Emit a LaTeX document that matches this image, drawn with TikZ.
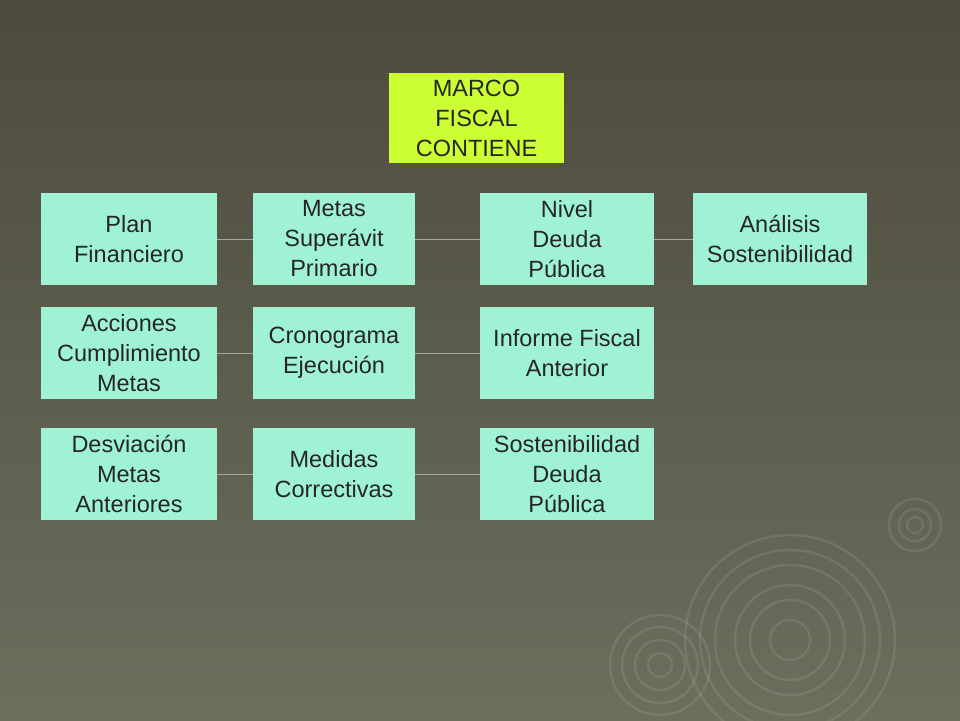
\documentclass[tikz,border=0pt]{standalone}
\usepackage{fontspec}
\setmainfont{Liberation Sans}
\begin{document}
\begin{tikzpicture}[x=1pt,y=-1pt,
 box/.style={fill=boxc,minimum height=92pt,align=center,font=\fontsize{23.5}{30}\selectfont,text=black!85,inner sep=0pt},
 link/.style={draw=gray!70,line width=0.6pt},
 ring/.style={draw=white,opacity=0.09,line width=2.5pt}]
\definecolor{boxc}{HTML}{A0F2D4}
\definecolor{topc}{HTML}{CCFF33}
\definecolor{bgtop}{HTML}{4D4A3E}
\definecolor{bgbot}{HTML}{6B6F5C}
\shade[top color=bgtop,bottom color=bgbot] (0,0) rectangle (960,720);
\useasboundingbox (0,0) rectangle (960,720);
\foreach \r in {20,40,55,75,90,105} \draw[ring] (790,640) circle (\r);
\foreach \r in {12,25,38,50} \draw[ring] (660,665) circle (\r);
\foreach \r in {8,16,26} \draw[ring] (915,525) circle (\r);
\node[box,fill=topc,minimum width=175pt,minimum height=90pt] (m) at (476.5,118) {MARCO\\FISCAL\\CONTIENE};
\node[box,minimum width=176pt] (a1) at (129,239) {Plan\\Financiero};
\node[box,minimum width=162pt] (a2) at (334,239) {Metas\\Superávit\\Primario};
\node[box,minimum width=174pt] (a3) at (567,239) {Nivel\\Deuda\\Pública};
\node[box,minimum width=174pt] (a4) at (780,239) {Análisis\\Sostenibilidad};
\node[box,minimum width=176pt] (b1) at (129,353) {Acciones\\Cumplimiento\\Metas};
\node[box,minimum width=162pt] (b2) at (334,353) {Cronograma\\Ejecución};
\node[box,minimum width=174pt] (b3) at (567,353) {Informe Fiscal\\Anterior};
\node[box,minimum width=176pt] (c1) at (129,474) {Desviación\\Metas\\Anteriores};
\node[box,minimum width=162pt] (c2) at (334,474) {Medidas\\Correctivas};
\node[box,minimum width=174pt] (c3) at (567,474) {Sostenibilidad\\Deuda\\Pública};
\draw[link] (a1)--(a2); \draw[link] (a2)--(a3); \draw[link] (a3)--(a4);
\draw[link] (b1)--(b2); \draw[link] (b2)--(b3);
\draw[link] (c1)--(c2); \draw[link] (c2)--(c3);
\end{tikzpicture}
\end{document}
